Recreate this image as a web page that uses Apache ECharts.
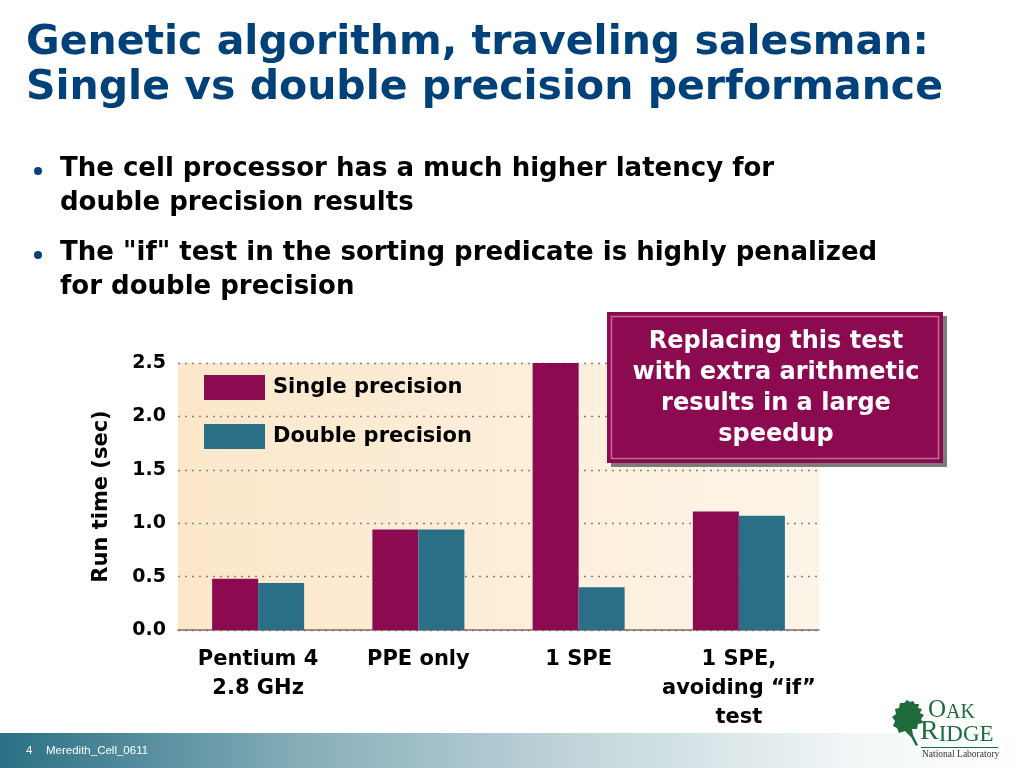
<!DOCTYPE html>
<html>
<head>
<meta charset="utf-8">
<script src="https://cdn.jsdelivr.net/npm/echarts@6/dist/echarts.min.js"></script>
<style>
html,body{margin:0;padding:0;background:#fff;}
#chart{width:1024px;height:768px;}
</style>
</head>
<body>
<div id="chart"></div>
<script>
// ---- data ----
const categories = ['Pentium 4\n2.8 GHz', 'PPE only', '1 SPE', '1 SPE,\navoiding \u201cif\u201d\ntest'];
const seriesNames = ['Single precision', 'Double precision'];
const singleValues = [0.48, 0.94, 2.51, 1.11];
const doubleValues = [0.44, 0.94, 0.40, 1.07];
const yTicks = [0, 0.5, 1.0, 1.5, 2.0, 2.5];
const titleLines = ['Genetic algorithm, traveling salesman:', 'Single vs double precision performance'];
const bullets = [
  ['The cell processor has a much higher latency for', 'double precision results'],
  ['The "if" test in the sorting predicate is highly penalized', 'for double precision']
];
const calloutLines = ['Replacing this test', 'with extra arithmetic', 'results in a large', 'speedup'];
const footerText = ['4', 'Meredith_Cell_0611'];

const FONT = '"DejaVu Sans", "Liberation Sans", Arial, sans-serif';
const FONT2 = '"Liberation Sans", Arial, Helvetica, sans-serif';
const SERIF = '"Liberation Serif", "DejaVu Serif", serif';
const SINGLE = '#8c0a50';
const DOUBLE = '#2a6f85';

const chart = echarts.init(document.getElementById('chart'), null, {renderer: 'canvas'});

function txt(x, y, text, font, fill, extra) {
  return Object.assign({type: 'text', x: x, y: y, z: 5,
    style: {text: text, font: font, fill: fill, verticalAlign: 'top', align: 'left'}}, extra || {});
}

const graphics = [];
// title
titleLines.forEach((t, i) => {
  graphics.push(txt(26, 23 + i * 45, t, 'bold 41px ' + FONT, '#00417a'));
});
// bullets
let by = 156;
bullets.forEach((b) => {
  graphics.push({type: 'circle', shape: {cx: 38, cy: by + 15, r: 4}, style: {fill: '#00417a'}});
  b.forEach((line, j) => {
    graphics.push(txt(60, by + j * 34, line, 'bold 26px ' + FONT, '#000'));
  });
  by += 84;
});
// callout box
graphics.push({type: 'rect', shape: {x: 607, y: 312, width: 336, height: 151}, style: {fill: SINGLE, shadowColor: 'rgba(110,110,110,0.9)', shadowOffsetX: 4, shadowOffsetY: 4, shadowBlur: 0}, z: 10});
graphics.push({type: 'rect', shape: {x: 611.5, y: 316.5, width: 327, height: 142}, style: {fill: 'none', stroke: '#c76a98', lineWidth: 1.5}, z: 11});
graphics.push({type: 'text', x: 776, y: 388, z: 12, style: {text: calloutLines.join('\n'), font: 'bold 24px ' + FONT, fill: '#fff', align: 'center', verticalAlign: 'middle', lineHeight: 31}});
// footer
graphics.push({type: 'rect', shape: {x: 0, y: 733, width: 1024, height: 35}, z: 1, style: {fill: {type: 'linear', x: 0, y: 0, x2: 1, y2: 0, colorStops: [
  {offset: 0, color: '#2a7085'}, {offset: 0.3, color: '#88afba'}, {offset: 0.6, color: '#c9dade'}, {offset: 0.85, color: '#f4f8f9'}, {offset: 1, color: '#ffffff'}]}}});
graphics.push(txt(26, 745, footerText[0], '11.5px ' + FONT2, '#fff'));
graphics.push(txt(46, 745, footerText[1], '11.5px ' + FONT2, '#fff'));
// logo
const GREEN = '#1f6b3b';
graphics.push({type: 'polygon', z: 5, shape: {points: [[916,746],[911,737],[905,731],[899,733],[897,728],[893,726],[895,721],[892,717],[896,714],[895,709],[899,708],[900,703],[904,703],[907,700],[910,702],[913,701],[915,704],[919,704],[918,708],[922,709],[920,713],[924,715],[921,719],[923,723],[918,724],[917,729],[912,729],[913,735],[918,745]]}, style: {fill: GREEN}});
graphics.push({type: 'text', x: 928, y: 723, z: 5, style: {verticalAlign: 'bottom', rich: {b: {font: '25px ' + SERIF, fill: GREEN, verticalAlign: 'bottom'}, s: {font: '20px ' + SERIF, fill: GREEN, verticalAlign: 'bottom'}}, text: '{b|O}{s|AK}'}});
graphics.push({type: 'text', x: 920, y: 746, z: 5, style: {verticalAlign: 'bottom', rich: {b: {font: '28px ' + SERIF, fill: GREEN, verticalAlign: 'bottom'}, s: {font: '23px ' + SERIF, fill: GREEN, verticalAlign: 'bottom'}}, text: '{b|R}{s|IDGE}'}});
graphics.push({type: 'line', z: 5, shape: {x1: 921, y1: 747.5, x2: 998, y2: 747.5}, style: {stroke: GREEN, lineWidth: 1}});
graphics.push(txt(922, 749, 'National Laboratory', '9.5px ' + SERIF, '#333'));

const option = {
  backgroundColor: '#ffffff',
  animation: false,
  grid: {left: 178, right: 205, top: 363, bottom: 138, show: true, borderWidth: 0,
    backgroundColor: {type: 'linear', x: 0, y: 0, x2: 1, y2: 0, colorStops: [{offset: 0, color: '#fce7ca'}, {offset: 1, color: '#fdf4e8'}]}},
  legend: {
    orient: 'vertical', left: 204, top: 375, padding: 0, itemWidth: 61, itemHeight: 25, itemGap: 24,
    icon: 'rect', textStyle: {fontFamily: FONT, fontWeight: 'bold', fontSize: 21, color: '#000', padding: [0, 0, 0, 3]},
    data: seriesNames
  },
  xAxis: {
    type: 'category', data: categories,
    axisLine: {lineStyle: {color: '#8a6a60', width: 1.5}},
    axisTick: {show: false},
    axisLabel: {fontFamily: FONT, fontWeight: 'bold', fontSize: 21, color: '#000', margin: 15, lineHeight: 29, interval: 0}
  },
  yAxis: {
    type: 'value', min: 0, max: 2.5, interval: 0.5,
    name: 'Run time (sec)', nameLocation: 'middle', nameGap: 66, nameRotate: 90,
    nameTextStyle: {fontFamily: FONT, fontWeight: 'bold', fontSize: 21, color: '#000'},
    axisLine: {show: false}, axisTick: {show: false},
    axisLabel: {fontFamily: FONT, fontWeight: 'bold', fontSize: 19, color: '#000', margin: 12, formatter: v => v.toFixed(1)},
    splitLine: {lineStyle: {color: '#8a7f78', type: [2, 5], width: 1.3}}
  },
  series: [
    {name: seriesNames[0], type: 'bar', data: singleValues, barWidth: 46, barGap: '0%', itemStyle: {color: SINGLE}},
    {name: seriesNames[1], type: 'bar', data: doubleValues, barWidth: 46, barGap: '0%', itemStyle: {color: DOUBLE}}
  ],
  graphic: {elements: graphics}
};
chart.setOption(option);
</script>
</body>
</html>
